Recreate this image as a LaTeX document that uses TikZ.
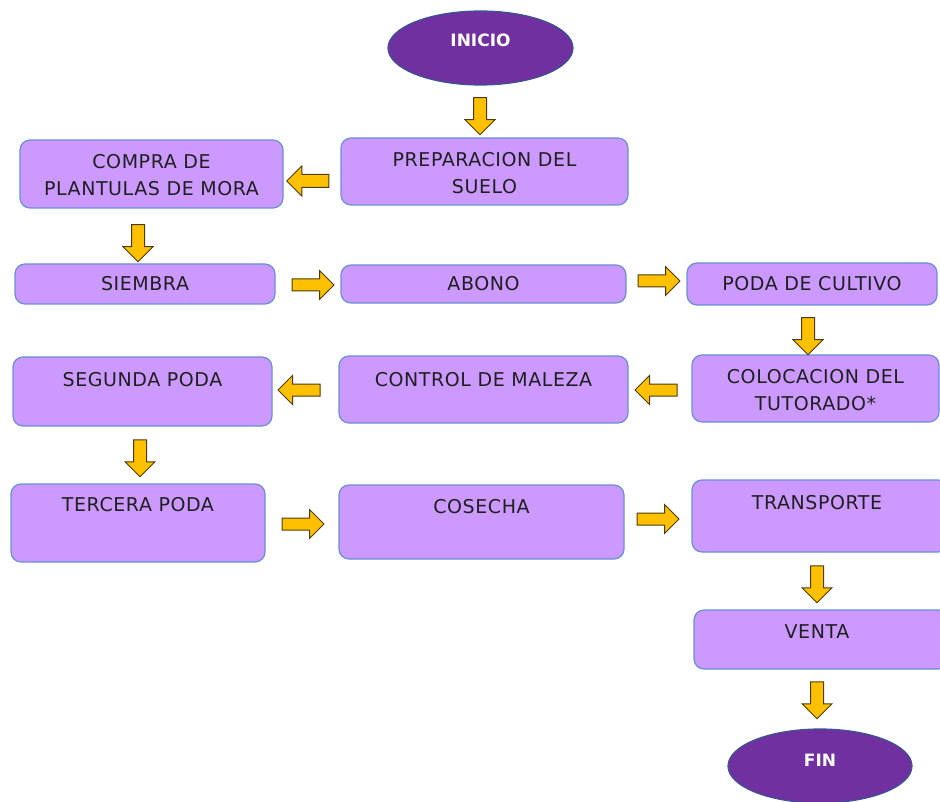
\documentclass[tikz,border=0pt]{standalone}
\usepackage{fontspec}
\setmainfont{DejaVu Sans}
\newfontfamily\boxfont[LetterSpace=3]{DejaVu Sans}
\usetikzlibrary{shapes.arrows}
\definecolor{boxfill}{HTML}{CC99FF}
\definecolor{boxline}{HTML}{6A8FD4}
\definecolor{ovfill}{HTML}{7030A0}
\definecolor{ovline}{HTML}{3B5590}
\definecolor{arrfill}{HTML}{FFC000}
\definecolor{arrline}{HTML}{4A3C10}
\begin{document}
\begin{tikzpicture}[x=1pt,y=-1pt,
  stepbox/.style={draw=boxline, fill=boxfill, line width=1.2pt, rounded corners=10pt},
  txt/.style={font=\boxfont\fontsize{19}{27}\selectfont, text=black!88, align=center, inner sep=0pt},
  oval/.style={draw=ovline, fill=ovfill, line width=1.2pt},
  otxt/.style={font=\fontsize{17}{20}\selectfont\bfseries, text=white, inner sep=0pt},
  arr/.style={single arrow, draw=arrline, fill=arrfill, line width=1pt, inner sep=6pt,
    minimum height=42pt, single arrow head extend=8.5pt, single arrow head indent=0pt},
  adown/.style={arr, shape border rotate=270, minimum height=37pt},
  aleft/.style={arr, shape border rotate=180},
  aright/.style={arr, shape border rotate=0}
]
\useasboundingbox (0,0) rectangle (940,802);
\clip (0,0) rectangle (940,802);
% ovals
\path[oval] (480.5,48) ellipse [x radius=92.5, y radius=37];
\node[otxt] (inicio) at (480.5,40) {INICIO};
\path[oval] (820,766) ellipse [x radius=92, y radius=37];
\node[otxt] (fin) at (820,760) {FIN};
% boxes
\draw[stepbox] (341,138) rectangle (628,205);
\node[txt] (prep) at (484.5,173) {PREPARACION DEL\\SUELO};
\draw[stepbox] (20,140) rectangle (283,208);
\node[txt] (compra) at (151.5,175) {COMPRA DE\\PLANTULAS DE MORA};
\draw[stepbox] (15,264) rectangle (275,304);
\node[txt] (siembra) at (145,284) {SIEMBRA};
\draw[stepbox] (341,265) rectangle (626,303);
\node[txt] (abono) at (483.5,284) {ABONO};
\draw[stepbox] (687,263) rectangle (937,305);
\node[txt] (poda) at (812,284) {PODA DE CULTIVO};
\draw[stepbox] (692,355) rectangle (939,422);
\node[txt] (coloc) at (815.5,390) {COLOCACION DEL\\TUTORADO*};
\draw[stepbox] (339,356) rectangle (628,423);
\node[txt] (control) at (483.5,380) {CONTROL DE MALEZA};
\draw[stepbox] (13,357) rectangle (272,426);
\node[txt] (segunda) at (142.5,380) {SEGUNDA PODA};
\draw[stepbox] (11,484) rectangle (265,562);
\node[txt] (tercera) at (138,505) {TERCERA PODA};
\draw[stepbox] (339,485) rectangle (624,559);
\node[txt] (cosecha) at (481.5,507) {COSECHA};
\draw[stepbox] (692,480) rectangle (948,552);
\node[txt] (transp) at (817,503) {TRANSPORTE};
\draw[stepbox] (694,610) rectangle (948,669);
\node[txt] (venta) at (817,632) {VENTA};
% arrows
\node[adown] (a1) at (480,113) {};
\node[aleft] (a2) at (311,181) {};
\node[adown] (a3) at (138,240) {};
\node[aright, inner sep=5.5pt] (a4) at (310,285) {};
\node[aright, inner sep=5.5pt] (a5) at (656,281) {};
\node[adown] (a6) at (808,333) {};
\node[aleft, inner sep=5.5pt] (a7) at (659,390) {};
\node[aleft, inner sep=5.5pt] (a8) at (302,390) {};
\node[adown] (a9) at (140,455) {};
\node[aright, inner sep=5.5pt] (a10) at (300,524) {};
\node[aright, inner sep=5.5pt] (a11) at (655,519) {};
\node[adown] (a12) at (817,581) {};
\node[adown] (a13) at (817,697) {};
\end{tikzpicture}
\end{document}
